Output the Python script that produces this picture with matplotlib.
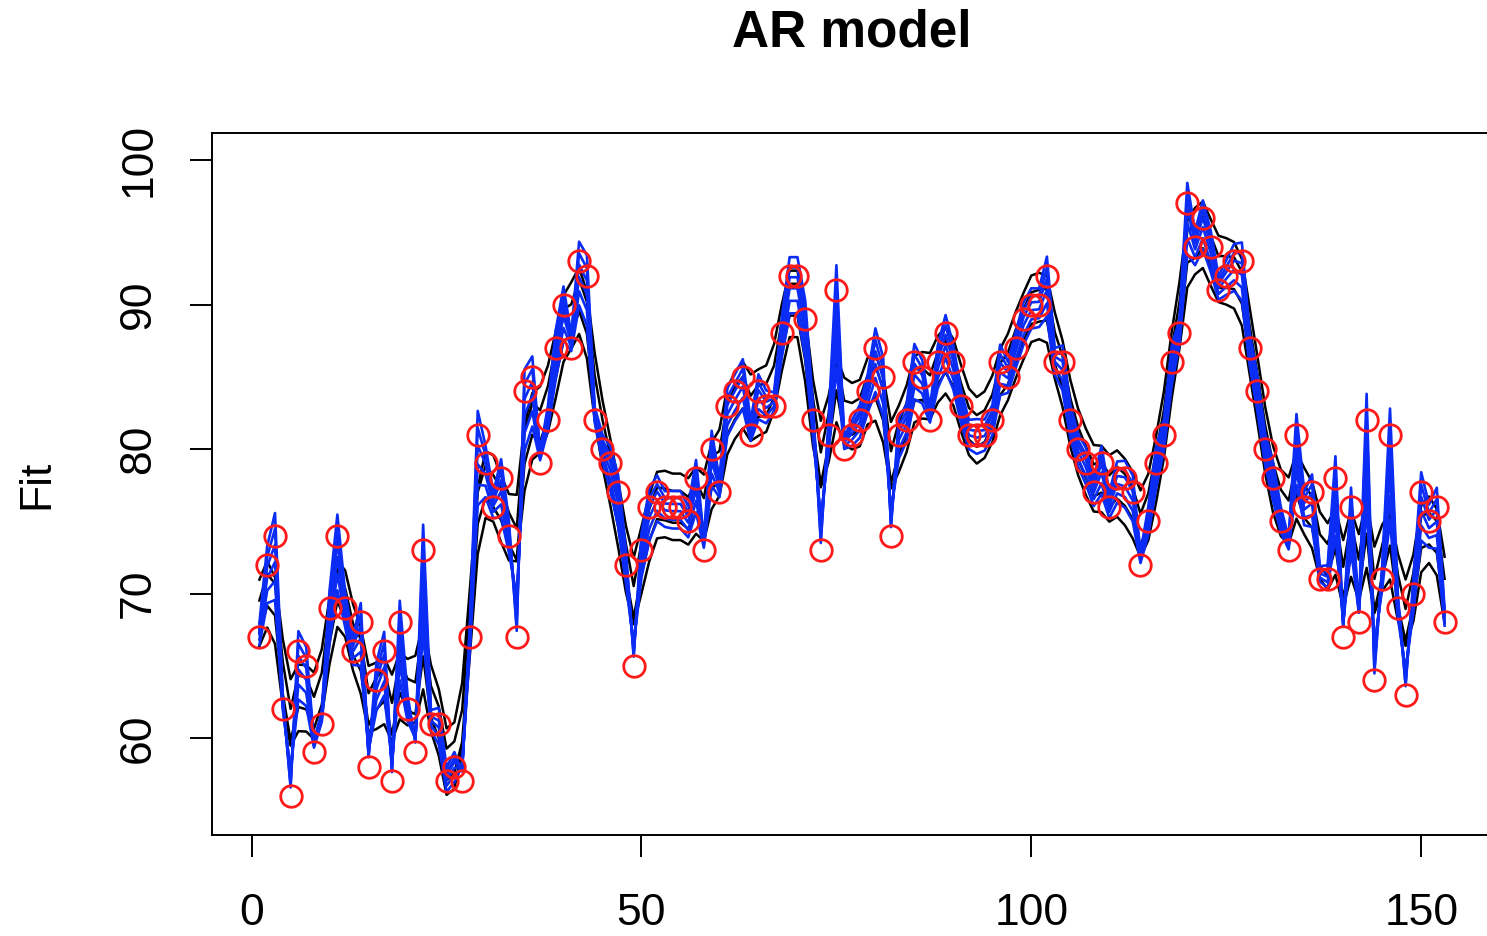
import numpy as np
import matplotlib
matplotlib.use("Agg")
import matplotlib.pyplot as plt

plt.rcParams['font.family'] = ['Liberation Sans', 'DejaVu Sans']

temp = [67, 72, 74, 62, 56, 66, 65, 59, 61, 69, 74, 69, 66, 68, 58, 64, 66, 57, 68, 62,
        59, 73, 61, 61, 57, 58, 57, 67, 81, 79, 76, 78, 74, 67, 84, 85, 79, 82, 87, 90,
        87, 93, 92, 82, 80, 79, 77, 72, 65, 73, 76, 77, 76, 76, 76, 75, 78, 73, 80, 77,
        83, 84, 85, 81, 84, 83, 83, 88, 92, 92, 89, 82, 73, 81, 91, 80, 81, 82, 84, 87,
        85, 74, 81, 82, 86, 85, 82, 86, 88, 86, 83, 81, 81, 81, 82, 86, 85, 87, 89, 90,
        90, 92, 86, 86, 82, 80, 79, 77, 79, 76, 78, 78, 77, 72, 75, 79, 81, 86, 88, 97,
        94, 96, 94, 91, 92, 93, 93, 87, 84, 80, 78, 75, 73, 81, 76, 77, 71, 71, 78, 67,
        76, 68, 82, 64, 71, 81, 69, 63, 70, 77, 75, 76, 68]
days = np.arange(1, len(temp) + 1)

# fitted curves: weight on the observation and vertical shift for each line
black_weights = [0.12, 0.25, 0.25, 0.12]
black_shifts = [-2.3, -1.1, 1.1, 2.3]
blue_weights = [0.5, 0.62, 0.74, 0.86, 0.98, 1.08]
blue_shifts = [-1.5, -0.9, -0.3, 0.2, 0.6, 1.1]

x = np.array(temp, dtype=float)
kernel = np.array([1, 2, 3, 2, 1]) / 9.0
padded = np.concatenate([[x[0]] * 2, x, [x[-1]] * 2])
smooth = np.convolve(padded, kernel, mode='valid')

fig = plt.figure(figsize=(14.87, 9.36), dpi=100)
ax = fig.add_axes([212 / 1487, 1 - 835 / 936, 1280 / 1487, 702 / 936])

for w, s in zip(black_weights, black_shifts):
    ax.plot(days, smooth + w * (x - smooth) + s, color='black', lw=1.8)
for w, s in zip(blue_weights, blue_shifts):
    ax.plot(days, smooth + w * (x - smooth) + s, color='#0a2cf5', lw=1.9)
ax.plot(days, temp, 'o', mfc='none', mec='#ff1a1a', ms=15.5, mew=2.0)

ax.set_xlim(-5.08, 159.08)
ax.set_ylim(53.29, 101.87)
ax.set_xticks([0, 50, 100, 150])
ax.set_yticks([60, 70, 80, 90, 100])
ax.tick_params(axis='both', length=16, width=1.4, labelsize=32)
ax.tick_params(axis='x', pad=26)
ax.tick_params(axis='y', pad=22)
for lab in ax.get_yticklabels():
    lab.set_rotation(90)
    lab.set_va('center')
for sp in ax.spines.values():
    sp.set_linewidth(1.4)
ax.set_ylabel('Fit', fontsize=32, labelpad=44)
fig.text(852 / 1487, 1 - 33 / 936, 'AR model', ha='center', va='center',
         fontsize=37, fontweight='bold')

fig.savefig('out.png', dpi=100)
